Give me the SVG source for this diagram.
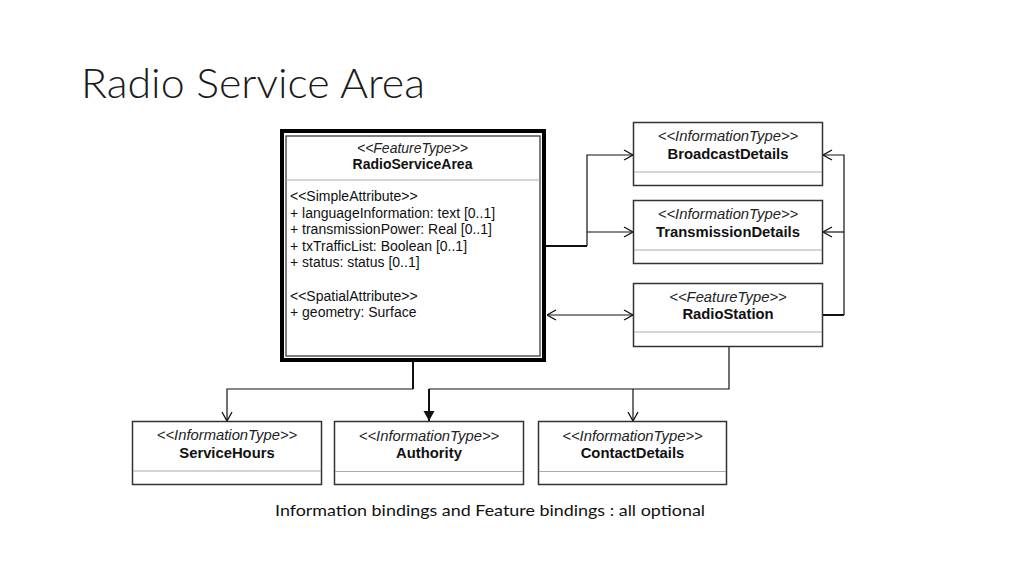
<svg xmlns="http://www.w3.org/2000/svg" width="1024" height="576" viewBox="0 0 1024 576">
<defs>
<style>
.st{font-family:"Liberation Sans",Arial,sans-serif;font-style:italic;fill:#222;text-anchor:middle}
.nm{font-family:"Liberation Sans",Arial,sans-serif;font-weight:bold;fill:#111;text-anchor:middle}
.at{font-family:"Liberation Sans",Arial,sans-serif;font-size:14px;fill:#111}
.box{fill:#fff;stroke:#333;stroke-width:1.5}
.sep{stroke:#aaa;stroke-width:1.2}
.ln{fill:none;stroke:#111;stroke-width:1.2}
.lb{fill:none;stroke:#111;stroke-width:2}
</style>
<marker id="ah" viewBox="0 0 10 12" refX="10" refY="6" markerWidth="10" markerHeight="12" markerUnits="userSpaceOnUse" orient="auto-start-reverse">
<path d="M1,1 L10,6 L1,11" fill="none" stroke="#111" stroke-width="1.3"/>
</marker>
<marker id="ahf" viewBox="0 0 10 12" refX="10" refY="6" markerWidth="10" markerHeight="12" markerUnits="userSpaceOnUse" orient="auto">
<path d="M0,0.5 L10,6 L0,11.5 Z" fill="#111"/>
</marker>
</defs>
<rect width="1024" height="576" fill="#fff"/>
<text x="81" y="98" font-family="Lato,'Open Sans',sans-serif" font-weight="300" font-size="42" fill="#1a1a1a" textLength="344" lengthAdjust="spacingAndGlyphs">Radio Service Area</text>

<g id="connectors">
<path class="lb" d="M546,246 H587"/>
<path class="ln" d="M587,246 V155 H633" marker-end="url(#ah)"/>
<path class="ln" d="M587,232 H633" marker-end="url(#ah)"/>
<path class="lb" d="M823,315 H844"/>
<path class="ln" d="M844,315 V155 H823" marker-end="url(#ah)"/>
<path class="ln" d="M844,232 H823" marker-end="url(#ah)"/>
<path class="ln" d="M547,315 H633" marker-start="url(#ah)" marker-end="url(#ah)"/>
<path class="lb" d="M413,362 V389"/>
<path class="ln" d="M413,389 H227 V421" marker-end="url(#ah)"/>
<path class="ln" d="M729,347 V389 H429"/>
<path class="lb" d="M429,389 V421" marker-end="url(#ahf)"/>
<path class="ln" d="M633,389 V421" marker-end="url(#ah)"/>
</g>

<g id="RadioServiceArea">
<rect x="282" y="131" width="262" height="229" fill="#fff" stroke="#000" stroke-width="4"/>
<rect x="286" y="136" width="254" height="220" fill="none" stroke="#555" stroke-width="1.5"/>
<line class="sep" x1="286" y1="180" x2="540" y2="180"/>
<text class="st" x="412.5" y="153" font-size="14">&lt;&lt;FeatureType&gt;&gt;</text>
<text class="nm" x="412.5" y="169" font-size="14">RadioServiceArea</text>
<text class="at" x="290" y="201">&lt;&lt;SimpleAttribute&gt;&gt;</text>
<text class="at" x="290" y="217.5">+ languageInformation: text [0..1]</text>
<text class="at" x="290" y="234">+ transmissionPower: Real [0..1]</text>
<text class="at" x="290" y="250.5">+ txTrafficList: Boolean [0..1]</text>
<text class="at" x="290" y="267">+ status: status [0..1]</text>
<text class="at" x="290" y="300.5">&lt;&lt;SpatialAttribute&gt;&gt;</text>
<text class="at" x="290" y="317">+ geometry: Surface</text>
</g>

<g id="BroadcastDetails">
<rect class="box" x="633.5" y="122.5" width="189" height="63"/>
<line class="sep" x1="634" y1="172" x2="822" y2="172"/>
<text class="st" x="728" y="141" font-size="14.8">&lt;&lt;InformationType&gt;&gt;</text>
<text class="nm" x="728" y="159" font-size="14.8">BroadcastDetails</text>
</g>

<g id="TransmissionDetails">
<rect class="box" x="633.5" y="200.5" width="189" height="63"/>
<line class="sep" x1="634" y1="250" x2="822" y2="250"/>
<text class="st" x="728" y="219" font-size="14.8">&lt;&lt;InformationType&gt;&gt;</text>
<text class="nm" x="728" y="236.5" font-size="14.8">TransmissionDetails</text>
</g>

<g id="RadioStation">
<rect class="box" x="633.5" y="283.5" width="189" height="63"/>
<line class="sep" x1="634" y1="332" x2="822" y2="332"/>
<text class="st" x="728" y="302" font-size="14.8">&lt;&lt;FeatureType&gt;&gt;</text>
<text class="nm" x="728" y="319" font-size="14.8">RadioStation</text>
</g>

<g id="ServiceHours">
<rect class="box" x="132.5" y="421.5" width="189" height="63"/>
<line class="sep" x1="133" y1="471" x2="321" y2="471"/>
<text class="st" x="227" y="440" font-size="14.8">&lt;&lt;InformationType&gt;&gt;</text>
<text class="nm" x="227" y="457.5" font-size="14.8">ServiceHours</text>
</g>

<g id="Authority">
<rect class="box" x="334.5" y="421.5" width="189" height="63"/>
<line class="sep" x1="335" y1="471.5" x2="523" y2="471.5"/>
<text class="st" x="429" y="440.5" font-size="14.8">&lt;&lt;InformationType&gt;&gt;</text>
<text class="nm" x="429" y="458" font-size="14.8">Authority</text>
</g>

<g id="ContactDetails">
<rect class="box" x="538.5" y="421.5" width="188" height="63"/>
<line class="sep" x1="539" y1="471.5" x2="726" y2="471.5"/>
<text class="st" x="632.5" y="440.5" font-size="14.8">&lt;&lt;InformationType&gt;&gt;</text>
<text class="nm" x="632.5" y="458" font-size="14.8">ContactDetails</text>
</g>

<text x="275" y="516" font-family="Lato,'Open Sans',sans-serif" font-size="16" fill="#111" textLength="430" lengthAdjust="spacingAndGlyphs">Information bindings and Feature bindings : all optional</text>
</svg>
